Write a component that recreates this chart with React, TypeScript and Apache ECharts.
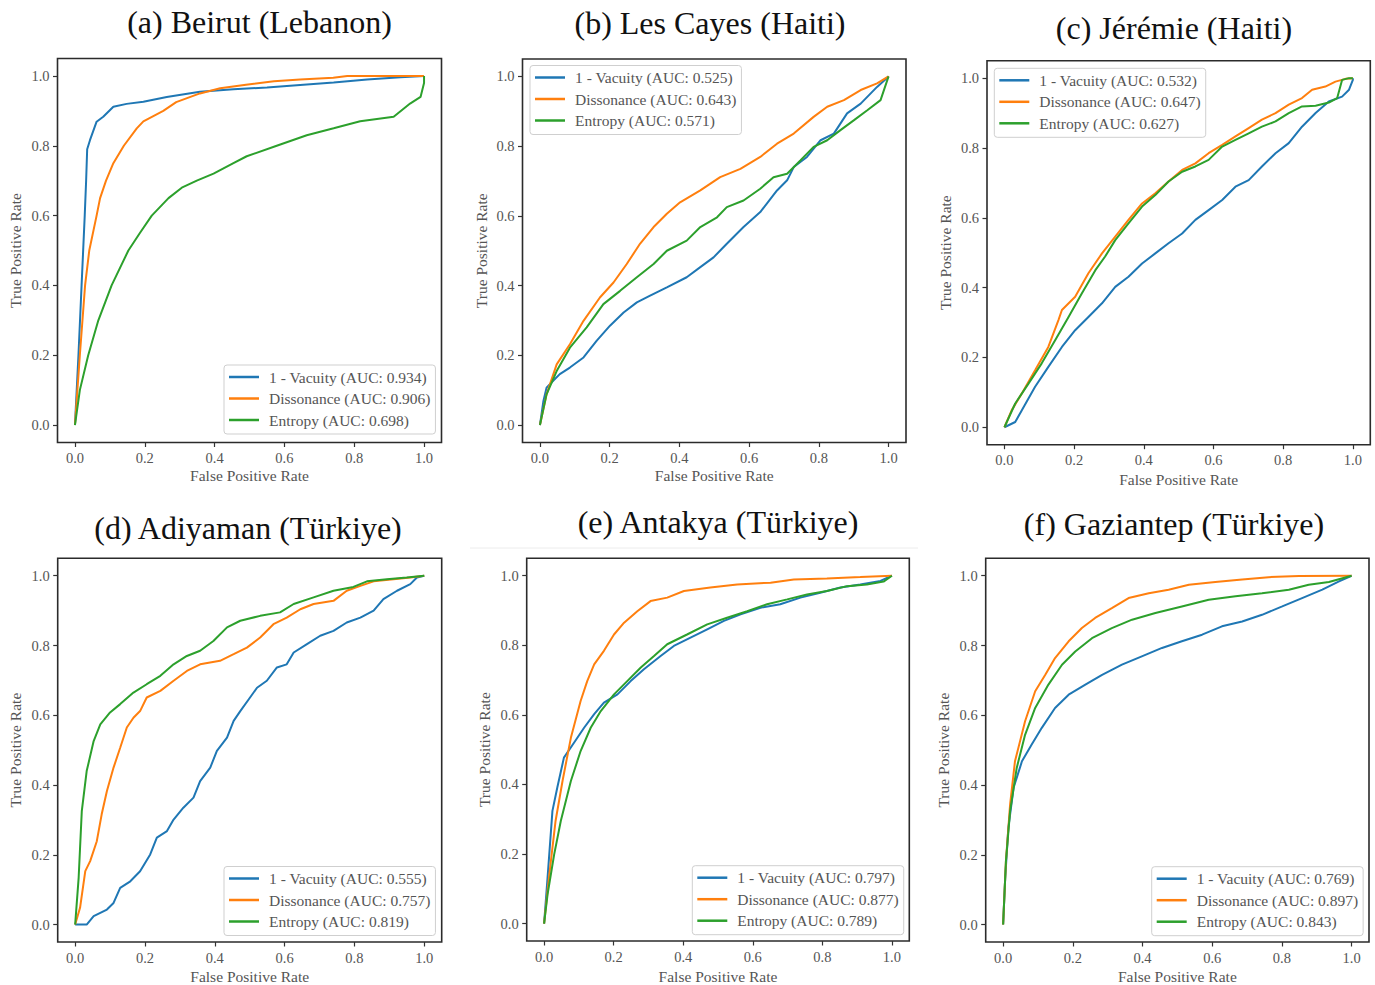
import React, { useEffect, useRef } from 'react';
import * as echarts from 'echarts';

// ---------------- DATA ----------------
const panelTitles = [
  '(a) Beirut (Lebanon)',
  '(b) Les Cayes (Haiti)',
  '(c) Jérémie (Haiti)',
  '(d) Adiyaman (Türkiye)',
  '(e) Antakya (Türkiye)',
  '(f) Gaziantep (Türkiye)',
];

const rateTicks = [0, 0.2, 0.4, 0.6, 0.8, 1.0];

const vacuityAuc = ['0.934', '0.525', '0.532', '0.555', '0.797', '0.769'];
const dissonanceAuc = ['0.906', '0.643', '0.647', '0.757', '0.877', '0.897'];
const entropyAuc = ['0.698', '0.571', '0.627', '0.819', '0.789', '0.843'];

// (a) Beirut
const beirutVacuity = [[0, 0], [0.01, 0.2], [0.019, 0.4], [0.028, 0.6], [0.032, 0.7], [0.035, 0.79], [0.043, 0.816], [0.062, 0.869], [0.081, 0.883], [0.11, 0.912], [0.148, 0.92], [0.196, 0.926], [0.263, 0.94], [0.358, 0.955], [0.454, 0.962], [0.55, 0.967], [0.645, 0.974], [0.741, 0.981], [0.837, 0.99], [0.932, 0.996], [1, 1]];
const beirutDissonance = [[0, 0], [0.014, 0.2], [0.029, 0.4], [0.041, 0.5], [0.062, 0.6], [0.072, 0.65], [0.089, 0.7], [0.11, 0.75], [0.14, 0.8], [0.177, 0.85], [0.196, 0.87], [0.253, 0.9], [0.29, 0.925], [0.358, 0.95], [0.416, 0.965], [0.49, 0.975], [0.57, 0.985], [0.645, 0.99], [0.74, 0.995], [0.78, 1], [1, 1]];
const beirutEntropy = [[0, 0], [0.014, 0.1], [0.038, 0.2], [0.067, 0.3], [0.105, 0.4], [0.153, 0.5], [0.186, 0.55], [0.22, 0.6], [0.268, 0.65], [0.306, 0.68], [0.349, 0.7], [0.397, 0.72], [0.454, 0.75], [0.492, 0.77], [0.578, 0.8], [0.664, 0.83], [0.741, 0.85], [0.817, 0.87], [0.913, 0.883], [0.96, 0.921], [0.99, 0.94], [1, 0.98], [1, 1]];

// (b) Les Cayes
const lesCayesVacuity = [[0, 0], [0.01, 0.069], [0.019, 0.107], [0.038, 0.127], [0.057, 0.146], [0.086, 0.165], [0.125, 0.194], [0.163, 0.242], [0.201, 0.285], [0.24, 0.323], [0.278, 0.352], [0.316, 0.371], [0.364, 0.395], [0.421, 0.424], [0.46, 0.453], [0.498, 0.481], [0.536, 0.52], [0.584, 0.568], [0.632, 0.611], [0.68, 0.673], [0.709, 0.702], [0.728, 0.74], [0.766, 0.769], [0.805, 0.817], [0.843, 0.836], [0.881, 0.894], [0.92, 0.922], [0.967, 0.97], [1, 1]];
const lesCayesDissonance = [[0, 0], [0.019, 0.088], [0.048, 0.174], [0.086, 0.232], [0.125, 0.299], [0.172, 0.366], [0.211, 0.409], [0.249, 0.462], [0.287, 0.52], [0.326, 0.568], [0.364, 0.606], [0.402, 0.639], [0.46, 0.673], [0.517, 0.711], [0.575, 0.735], [0.632, 0.769], [0.68, 0.807], [0.728, 0.836], [0.785, 0.884], [0.824, 0.913], [0.872, 0.932], [0.92, 0.961], [0.967, 0.98], [1, 1]];
const lesCayesEntropy = [[0, 0], [0.019, 0.088], [0.048, 0.155], [0.086, 0.222], [0.134, 0.28], [0.182, 0.347], [0.23, 0.385], [0.278, 0.424], [0.326, 0.462], [0.364, 0.5], [0.421, 0.529], [0.46, 0.568], [0.508, 0.596], [0.536, 0.625], [0.584, 0.644], [0.632, 0.678], [0.67, 0.711], [0.709, 0.721], [0.747, 0.759], [0.785, 0.798], [0.824, 0.817], [0.862, 0.846], [0.9, 0.874], [0.939, 0.903], [0.977, 0.932], [1, 1]];

// (c) Jérémie
const jeremieVacuity = [[0, 0], [0.031, 0.015], [0.05, 0.049], [0.088, 0.116], [0.126, 0.173], [0.165, 0.23], [0.203, 0.278], [0.241, 0.316], [0.28, 0.355], [0.318, 0.402], [0.356, 0.431], [0.395, 0.469], [0.433, 0.498], [0.471, 0.527], [0.51, 0.555], [0.548, 0.594], [0.586, 0.622], [0.625, 0.651], [0.663, 0.689], [0.701, 0.708], [0.739, 0.747], [0.778, 0.785], [0.816, 0.814], [0.854, 0.861], [0.893, 0.9], [0.931, 0.933], [0.969, 0.947], [0.989, 0.967], [1, 0.995], [1, 1]];
const jeremieDissonance = [[0, 0], [0.021, 0.049], [0.05, 0.097], [0.088, 0.163], [0.126, 0.23], [0.155, 0.307], [0.165, 0.336], [0.203, 0.374], [0.241, 0.441], [0.28, 0.498], [0.318, 0.546], [0.356, 0.594], [0.395, 0.641], [0.433, 0.67], [0.471, 0.704], [0.51, 0.737], [0.548, 0.756], [0.586, 0.785], [0.625, 0.809], [0.663, 0.833], [0.701, 0.857], [0.739, 0.881], [0.778, 0.9], [0.816, 0.924], [0.854, 0.943], [0.883, 0.967], [0.921, 0.976], [0.95, 0.99], [0.979, 0.998], [1, 1]];
const jeremieEntropy = [[0, 0], [0.031, 0.068], [0.069, 0.125], [0.107, 0.183], [0.146, 0.25], [0.184, 0.316], [0.222, 0.383], [0.261, 0.45], [0.289, 0.489], [0.318, 0.536], [0.356, 0.584], [0.395, 0.632], [0.433, 0.665], [0.471, 0.704], [0.51, 0.732], [0.548, 0.747], [0.586, 0.766], [0.625, 0.804], [0.663, 0.823], [0.701, 0.842], [0.739, 0.861], [0.778, 0.876], [0.816, 0.9], [0.854, 0.919], [0.893, 0.921], [0.931, 0.93], [0.955, 0.943], [0.969, 0.995], [0.989, 1], [1, 1]];

// (d) Adiyaman
const adiyamanVacuity = [[0, 0], [0.033, 0], [0.053, 0.024], [0.091, 0.043], [0.11, 0.062], [0.129, 0.105], [0.158, 0.124], [0.186, 0.153], [0.215, 0.201], [0.234, 0.249], [0.263, 0.268], [0.282, 0.301], [0.31, 0.335], [0.339, 0.364], [0.358, 0.411], [0.387, 0.45], [0.406, 0.498], [0.435, 0.536], [0.454, 0.584], [0.473, 0.612], [0.501, 0.651], [0.521, 0.679], [0.549, 0.699], [0.578, 0.737], [0.606, 0.746], [0.626, 0.78], [0.664, 0.804], [0.702, 0.828], [0.74, 0.842], [0.778, 0.866], [0.817, 0.88], [0.855, 0.9], [0.883, 0.933], [0.922, 0.957], [0.96, 0.976], [0.979, 0.995], [1, 1]];
const adiyamanDissonance = [[0, 0], [0.014, 0.048], [0.029, 0.153], [0.043, 0.182], [0.062, 0.239], [0.076, 0.316], [0.091, 0.383], [0.11, 0.45], [0.129, 0.507], [0.148, 0.565], [0.167, 0.593], [0.186, 0.612], [0.205, 0.651], [0.244, 0.67], [0.282, 0.699], [0.32, 0.727], [0.358, 0.746], [0.415, 0.756], [0.454, 0.775], [0.492, 0.794], [0.53, 0.823], [0.568, 0.861], [0.606, 0.88], [0.645, 0.904], [0.683, 0.919], [0.74, 0.928], [0.778, 0.957], [0.817, 0.971], [0.855, 0.984], [0.912, 0.99], [0.96, 0.995], [1, 1]];
const adiyamanEntropy = [[0, 0], [0.01, 0.134], [0.019, 0.325], [0.033, 0.44], [0.053, 0.526], [0.072, 0.574], [0.1, 0.608], [0.129, 0.632], [0.167, 0.665], [0.205, 0.689], [0.244, 0.713], [0.282, 0.746], [0.32, 0.77], [0.358, 0.785], [0.396, 0.813], [0.435, 0.852], [0.473, 0.871], [0.53, 0.885], [0.587, 0.895], [0.626, 0.919], [0.683, 0.938], [0.74, 0.957], [0.797, 0.968], [0.836, 0.984], [0.893, 0.99], [0.95, 0.995], [1, 1]];

// (e) Antakya
const antakyaVacuity = [[0, 0], [0.01, 0.132], [0.024, 0.324], [0.038, 0.391], [0.057, 0.477], [0.086, 0.52], [0.115, 0.563], [0.144, 0.602], [0.172, 0.635], [0.211, 0.659], [0.249, 0.697], [0.287, 0.731], [0.335, 0.769], [0.373, 0.798], [0.421, 0.822], [0.469, 0.846], [0.517, 0.87], [0.565, 0.889], [0.622, 0.908], [0.679, 0.918], [0.737, 0.937], [0.794, 0.951], [0.852, 0.966], [0.909, 0.975], [0.967, 0.985], [1, 1]];
const antakyaDissonance = [[0, 0], [0.014, 0.132], [0.033, 0.295], [0.053, 0.41], [0.077, 0.534], [0.105, 0.64], [0.124, 0.697], [0.144, 0.745], [0.172, 0.784], [0.201, 0.831], [0.23, 0.865], [0.268, 0.898], [0.306, 0.927], [0.354, 0.937], [0.402, 0.956], [0.478, 0.966], [0.555, 0.975], [0.651, 0.98], [0.718, 0.989], [0.813, 0.992], [0.909, 0.996], [1, 1]];
const antakyaEntropy = [[0, 0], [0.01, 0.084], [0.029, 0.199], [0.048, 0.295], [0.077, 0.41], [0.105, 0.496], [0.134, 0.563], [0.163, 0.611], [0.201, 0.659], [0.239, 0.697], [0.278, 0.736], [0.316, 0.769], [0.354, 0.803], [0.411, 0.831], [0.469, 0.86], [0.526, 0.879], [0.584, 0.898], [0.641, 0.918], [0.699, 0.932], [0.756, 0.946], [0.813, 0.956], [0.871, 0.97], [0.928, 0.975], [0.976, 0.983], [1, 1]];

// (f) Gaziantep
const gaziantepVacuity = [[0, 0], [0.006, 0.134], [0.015, 0.277], [0.03, 0.392], [0.054, 0.468], [0.082, 0.516], [0.111, 0.564], [0.149, 0.621], [0.188, 0.659], [0.236, 0.688], [0.284, 0.716], [0.341, 0.745], [0.398, 0.769], [0.456, 0.793], [0.513, 0.812], [0.571, 0.831], [0.628, 0.855], [0.686, 0.869], [0.743, 0.888], [0.801, 0.912], [0.858, 0.936], [0.916, 0.96], [0.964, 0.984], [1, 1]];
const gaziantepDissonance = [[0, 0], [0.008, 0.181], [0.02, 0.344], [0.034, 0.468], [0.063, 0.583], [0.092, 0.669], [0.121, 0.716], [0.149, 0.764], [0.188, 0.812], [0.226, 0.85], [0.264, 0.879], [0.312, 0.907], [0.36, 0.936], [0.418, 0.95], [0.475, 0.96], [0.533, 0.974], [0.609, 0.982], [0.686, 0.989], [0.762, 0.996], [0.849, 0.999], [1, 1]];
const gaziantepEntropy = [[0, 0], [0.008, 0.181], [0.02, 0.325], [0.039, 0.449], [0.063, 0.544], [0.092, 0.621], [0.13, 0.688], [0.169, 0.745], [0.207, 0.783], [0.255, 0.821], [0.312, 0.85], [0.37, 0.874], [0.437, 0.893], [0.513, 0.912], [0.59, 0.931], [0.667, 0.941], [0.743, 0.95], [0.82, 0.96], [0.877, 0.974], [0.935, 0.982], [1, 1]];

const vacuityCurves = [beirutVacuity, lesCayesVacuity, jeremieVacuity, adiyamanVacuity, antakyaVacuity, gaziantepVacuity];
const dissonanceCurves = [beirutDissonance, lesCayesDissonance, jeremieDissonance, adiyamanDissonance, antakyaDissonance, gaziantepDissonance];
const entropyCurves = [beirutEntropy, lesCayesEntropy, jeremieEntropy, adiyamanEntropy, antakyaEntropy, gaziantepEntropy];

// ---------------- LAYOUT ----------------
const LAYOUT = [
  { grid: { left: 57.5, top: 58.5, width: 384, height: 384 }, title: [259.5, 22], legend: [224, 365], xGap: 25, yGap: 34 },
  { grid: { left: 522.5, top: 59, width: 383.5, height: 383.5 }, title: [710, 23], legend: [530, 65.5], xGap: 25, yGap: 33 },
  { grid: { left: 987, top: 60.7, width: 383.3, height: 384 }, title: [1174, 28], legend: [994.3, 68.3], xGap: 26.5, yGap: 33.5 },
  { grid: { left: 57.7, top: 558.3, width: 384, height: 383.7 }, title: [248, 528], legend: [224, 866.5], xGap: 26, yGap: 34 },
  { grid: { left: 526.7, top: 558.3, width: 382.6, height: 382.7 }, title: [718, 522], legend: [692.3, 865.7], xGap: 27, yGap: 34 },
  { grid: { left: 985.7, top: 558.3, width: 383.3, height: 384 }, title: [1174, 524], legend: [1151.7, 866.7], xGap: 26, yGap: 34 },
];

const COLORS = ['#1f77b4', '#ff7f0e', '#2ca02c'];
const SERIF = '"Liberation Serif", "Times New Roman", serif';
const TEXT_GRAY = '#555';

function buildOption() {
  const grid: any[] = [];
  const xAxis: any[] = [];
  const yAxis: any[] = [];
  const series: any[] = [];
  const legend: any[] = [];
  const graphic: any[] = [];

  LAYOUT.forEach((lay, i) => {
    grid.push({
      ...lay.grid,
      show: true,
      borderColor: '#2b2b2b',
      borderWidth: 1.6,
      backgroundColor: 'transparent',
      containLabel: false,
    });
    const axisCommon = {
      type: 'value',
      gridIndex: i,
      min: -0.05,
      max: 1.05,
      nameLocation: 'middle',
      nameTextStyle: { fontFamily: SERIF, fontSize: 15.5, color: TEXT_GRAY },
      axisLine: { show: false, onZero: false },
      axisTick: { show: true, length: 4.5, customValues: rateTicks, lineStyle: { color: '#333', width: 1.2 } },
      axisLabel: {
        customValues: rateTicks,
        formatter: (v: number) => v.toFixed(1),
        fontFamily: SERIF,
        fontSize: 14.5,
        color: TEXT_GRAY,
        margin: 8,
      },
      splitLine: { show: false },
    };
    xAxis.push({ ...axisCommon, position: 'bottom', name: 'False Positive Rate', nameGap: lay.xGap });
    yAxis.push({ ...axisCommon, position: 'left', name: 'True Positive Rate', nameGap: lay.yGap });

    const names = [
      `1 - Vacuity (AUC: ${vacuityAuc[i]})`,
      `Dissonance (AUC: ${dissonanceAuc[i]})`,
      `Entropy (AUC: ${entropyAuc[i]})`,
    ];
    const curves = [vacuityCurves[i], dissonanceCurves[i], entropyCurves[i]];
    curves.forEach((data, k) => {
      series.push({
        type: 'line',
        name: names[k],
        xAxisIndex: i,
        yAxisIndex: i,
        data,
        showSymbol: false,
        symbol: 'none',
        color: COLORS[k],
        lineStyle: { width: 2, color: COLORS[k] },
        z: 2 + k,
      });
    });

    legend.push({
      data: names,
      left: lay.legend[0],
      top: lay.legend[1],
      orient: 'vertical',
      icon: 'rect',
      itemWidth: 30,
      itemHeight: 2.5,
      itemGap: 5.5,
      padding: [4, 5, 6, 5],
      backgroundColor: '#fff',
      borderColor: '#cfcfcf',
      borderWidth: 1,
      borderRadius: 3,
      textStyle: { fontFamily: SERIF, fontSize: 15.5, color: TEXT_GRAY, lineHeight: 15, padding: [0, 0, 0, 5] },
    });

    graphic.push({
      type: 'text',
      x: lay.title[0],
      y: lay.title[1],
      style: {
        text: panelTitles[i],
        fontFamily: SERIF,
        fontSize: 32,
        fill: '#111',
        textAlign: 'center',
        textVerticalAlign: 'middle',
      },
    });
  });

  graphic.push({
    type: 'line',
    shape: { x1: 470, y1: 548, x2: 918, y2: 548 },
    style: { stroke: '#ececec', lineWidth: 1 },
  });

  return {
    animation: false,
    backgroundColor: '#fff',
    grid,
    xAxis,
    yAxis,
    series,
    legend,
    graphic,
  };
}

export default function App() {
  const ref = useRef<HTMLDivElement>(null);
  useEffect(() => {
    if (!ref.current) return;
    const chart = echarts.init(ref.current, undefined, { renderer: 'svg' });
    chart.setOption(buildOption() as any);
    return () => chart.dispose();
  }, []);
  return (
    <div
      ref={ref}
      style={{ position: 'absolute', left: 0, top: 0, width: 1375, height: 985, background: '#fff' }}
    />
  );
}
